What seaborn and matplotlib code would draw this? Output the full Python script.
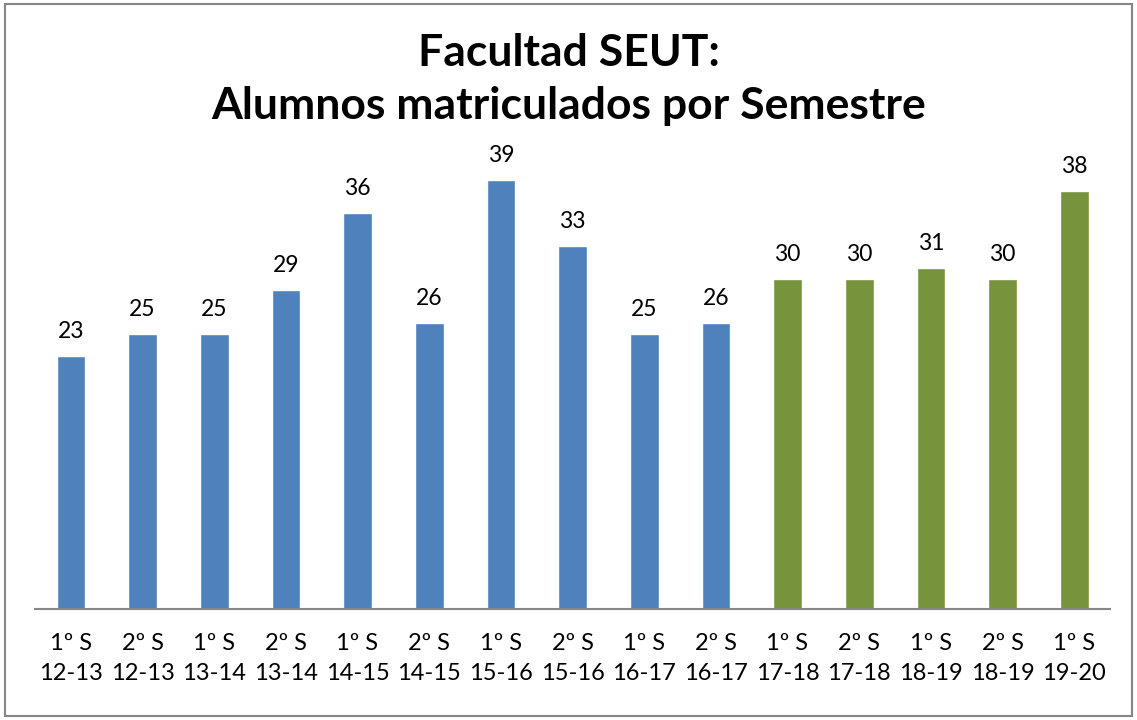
import pandas as pd
import matplotlib.pyplot as plt
import seaborn as sns
from matplotlib.patches import Rectangle

semestres = ["1º S\n12-13", "2º S\n12-13", "1º S\n13-14", "2º S\n13-14", "1º S\n14-15",
             "2º S\n14-15", "1º S\n15-16", "2º S\n15-16", "1º S\n16-17", "2º S\n16-17",
             "1º S\n17-18", "2º S\n17-18", "1º S\n18-19", "2º S\n18-19", "1º S\n19-20"]
alumnos = [23, 25, 25, 29, 36, 26, 39, 33, 25, 26, 30, 30, 31, 30, 38]
periodo = ["antes"] * 10 + ["despues"] * 5

df = pd.DataFrame({"semestre": semestres, "alumnos": alumnos, "periodo": periodo})

sns.set_style("white")
plt.rcParams['font.family'] = ['Lato', 'DejaVu Sans']
plt.rcParams['text.color'] = 'black'
plt.rcParams['xtick.color'] = 'black'

fig = plt.figure(figsize=(11.37, 7.2), dpi=100)
ax = fig.add_axes([0.0308, 0.1542, 0.9455, 0.6875])

sns.barplot(data=df, x="semestre", y="alumnos", hue="periodo",
            palette={"antes": "#4F81BD", "despues": "#77933C"},
            saturation=1, dodge=False, width=0.4, legend=False, ax=ax)

for c in ax.containers:
    ax.bar_label(c, padding=10, fontsize=16.5, color="black")

ax.set_ylim(0, 45)
ax.set_xlim(-0.5, len(semestres) - 0.5)
ax.set_xlabel("")
ax.set_ylabel("")
ax.set_yticks([])
ax.tick_params(axis="x", length=0, pad=17, labelsize=17, labelcolor="black")
for lbl in ax.get_xticklabels():
    lbl.set_linespacing(1.55)
sns.despine(ax=ax, left=True)
ax.spines["bottom"].set_color("#868686")
ax.spines["bottom"].set_linewidth(1.5)

fig.text(0.5, 0.89, "Facultad SEUT:\nAlumnos matriculados por Semestre",
         ha="center", va="center", fontsize=32, fontweight="bold", linespacing=1.4)

fig.patches.append(Rectangle((0.004, 0.005), 0.992, 0.99, transform=fig.transFigure,
                             fill=False, edgecolor="#868686", linewidth=1.5))

fig.savefig("out.png", dpi=100)
